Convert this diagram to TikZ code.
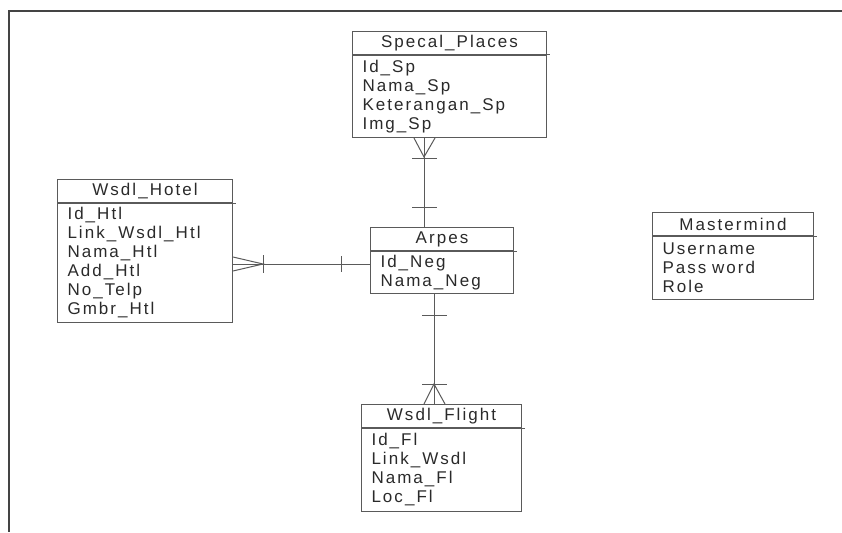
\documentclass[tikz,border=0pt]{standalone}
\usepackage{fontspec}
\setmainfont{Liberation Sans}[LetterSpace=12]
\usetikzlibrary{positioning,calc}
\definecolor{erline}{HTML}{5A5A5A}
\definecolor{ertext}{HTML}{2A2A2A}
\definecolor{erframe}{HTML}{444444}

\begin{document}
\begin{tikzpicture}[
    x=1pt, y=-1pt,
    font=\fontsize{17}{19}\selectfont,
    entity/.style={draw=erline, line width=1pt, rectangle, inner sep=0pt, text=ertext},
    etitle/.style={entity, anchor=north west, minimum height=23pt},
    eattr/.style={entity, align=left, inner xsep=10pt},
    rel/.style={draw=erline, line width=1pt},
    frame/.style={draw=erframe, line width=2pt}
  ]
    \useasboundingbox (0,0) rectangle (842,532);
    \draw[frame] (842,11) -- (8.5,11) -- (8.5,532);

    % entities
    \node[etitle, minimum width=194pt] (places) at (352,31) {Specal\_Places};
    \node[eattr, text width=174pt, minimum height=82pt, below=0pt of places] (placesattr)
    {Id\_Sp\\Nama\_Sp\\Keterangan\_Sp\\Img\_Sp};
    \node[etitle, minimum width=175pt] (hotel) at (57,179) {Wsdl\_Hotel};
    \node[eattr, text width=155pt, minimum height=119pt, below=0pt of hotel] (hotelattr)
    {Id\_Htl\\Link\_Wsdl\_Htl\\Nama\_Htl\\Add\_Htl\\No\_Telp\\Gmbr\_Htl};
    \node[etitle, minimum width=143pt] (arpes) at (370,227) {Arpes};
    \node[eattr, text width=123pt, minimum height=42pt, below=0pt of arpes] (arpesattr)
    {Id\_Neg\\Nama\_Neg};
    \node[etitle, minimum width=160pt] (flight) at (361,404) {Wsdl\_Flight};
    \node[eattr, text width=140pt, minimum height=83pt, below=0pt of flight] (flightattr)
    {Id\_Fl\\Link\_Wsdl\\Nama\_Fl\\Loc\_Fl};
    \node[etitle, minimum width=161pt] (master) at (652,212) {Mastermind};
    \node[eattr, text width=141pt, minimum height=63pt, below=0pt of master] (masterattr)
    {Username\\Pass word\\Role};
    \foreach \e in {places, hotel, arpes, flight, master}
      \draw[rel] (\e.south east) -- ++(3,0);

    % Specal_Places -- Arpes
    \coordinate (pfoot) at ([xshift=72pt]placesattr.south west);
    \coordinate (atop) at (pfoot |- arpes.north);
    \draw[rel] (pfoot) -- (atop);
    \draw[rel] ([xshift=-10pt]pfoot) -- ([yshift=-19pt]pfoot) -- ([xshift=11pt]pfoot);
    \draw[rel] ([xshift=-12pt,yshift=-20pt]pfoot) -- ++(25,0);
    \draw[rel] ([xshift=-12pt,yshift=20pt]atop) -- ++(25,0);

    % Wsdl_Hotel -- Arpes
    \coordinate (ajoin) at ([yshift=-13pt]arpesattr.north west);
    \coordinate (hjoin) at (hotelattr.east |- ajoin);
    \draw[rel] (hjoin) -- (ajoin);
    \draw[rel] ([yshift=7pt]hjoin) -- ([xshift=30pt]hjoin) -- ([yshift=-7pt]hjoin);
    \draw[rel] ([xshift=30pt,yshift=9pt]hjoin) -- ([xshift=30pt,yshift=-9pt]hjoin);
    \draw[rel] ([xshift=-29pt,yshift=8pt]ajoin) -- ([xshift=-29pt,yshift=-8pt]ajoin);

    % Arpes -- Wsdl_Flight
    \coordinate (abot) at ([xshift=64pt]arpesattr.south west);
    \coordinate (ftop) at (abot |- flight.north);
    \draw[rel] (abot) -- (ftop);
    \draw[rel] ([xshift=-12pt,yshift=-21pt]abot) -- ++(25,0);
    \draw[rel] ([xshift=-12pt,yshift=20pt]ftop) -- ++(25,0);
    \draw[rel] ([xshift=-10pt]ftop) -- ([yshift=20pt]ftop) -- ([xshift=11pt]ftop);
  \end{tikzpicture}
\end{document}
